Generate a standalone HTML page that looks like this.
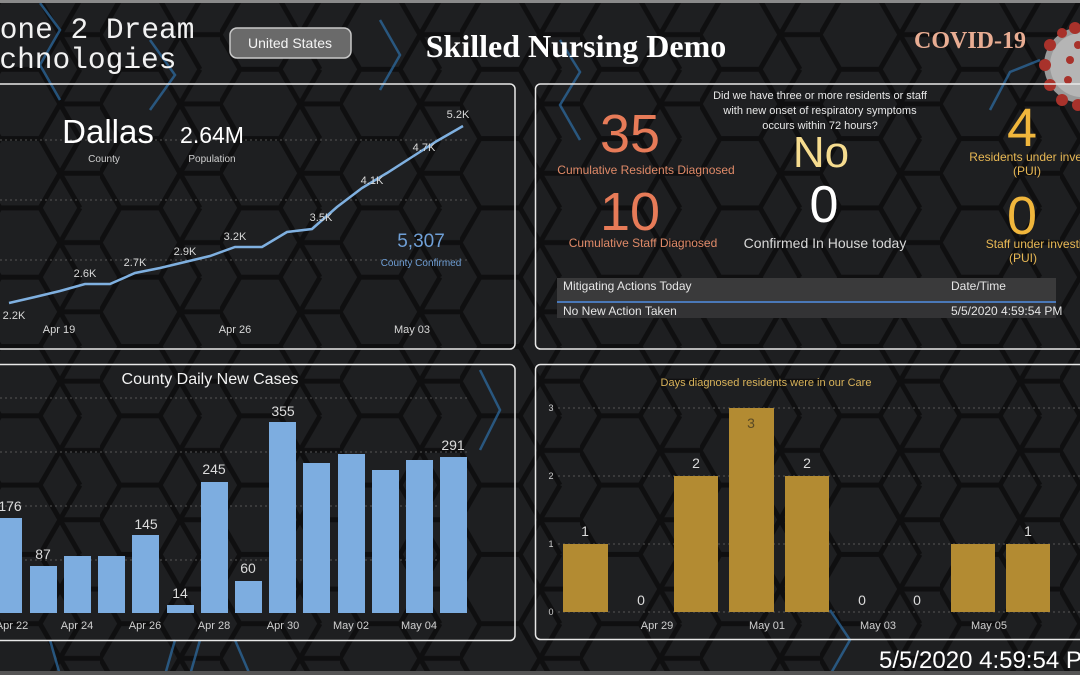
<!DOCTYPE html>
<html><head><meta charset="utf-8"><style>
html,body{margin:0;padding:0;background:#1b1c1e;}
body{width:1080px;height:675px;overflow:hidden;position:relative;font-family:"Liberation Sans",sans-serif;}
svg{position:absolute;left:0;top:0;}
</style></head><body>
<svg width="1080" height="675" viewBox="0 0 1080 675" xmlns="http://www.w3.org/2000/svg" font-family="Liberation Sans, sans-serif">
<defs>
<pattern id="hex" width="120" height="69.3" patternUnits="userSpaceOnUse" x="-20" y="0">
<rect width="120" height="69.3" fill="#1e1f21"/>
<path d="M0,34.65 L20,0 L60,0 L80,34.65 L60,69.3 L20,69.3 Z M80,34.65 L120,34.65 M60,0 L80,-34.65 M60,69.3 L80,103.95" fill="none" stroke="#0f0f10" stroke-width="5"/>
<path d="M80,34.65 L100,0 M80,34.65 L100,69.3" fill="none" stroke="#0f0f10" stroke-width="5"/>
</pattern>
</defs>
<rect width="1080" height="675" fill="url(#hex)"/>
<!-- blue accent strokes -->
<g stroke="#2d6fa8" stroke-width="2.5" fill="none" opacity="0.7">
<path d="M40,3 L60,30 L40,65 L60,100"/>
<path d="M150,40 L175,75 L150,110"/>
<path d="M380,20 L400,55 L380,90"/>
<path d="M560,40 L580,72 L560,105 L580,140"/>
<path d="M480,370 L500,410 L480,450"/>
<path d="M50,640 L60,675 M175,640 L165,675 M200,640 L190,675 M235,640 L250,675"/>
<path d="M830,610 L850,640 L830,675"/>
<path d="M1040,60 L1010,72 L990,110"/>
</g>
<rect x="0" y="0" width="1080" height="3" fill="#8a8a8a"/>
<rect x="0" y="671" width="1080" height="4" fill="#555"/>

<!-- header -->
<text x="-18" y="38" font-family="Liberation Mono, monospace" font-size="29.5" fill="#f2f2f2">Zone 2 Dream</text>
<text x="-36" y="68" font-family="Liberation Mono, monospace" font-size="29.5" fill="#f2f2f2">Technologies</text>
<rect x="230" y="28" width="121" height="30" rx="7" fill="#6a6a6a" stroke="#c8c8c8" stroke-width="1.5"/>
<text x="290" y="48" font-size="14" fill="#f4f4f4" text-anchor="middle">United States</text>
<text x="576" y="57" font-family="Liberation Serif, serif" font-weight="bold" font-size="32" fill="#ffffff" text-anchor="middle">Skilled Nursing Demo</text>
<text x="970" y="48" font-family="Liberation Serif, serif" font-weight="bold" font-size="24" fill="#e9ad93" text-anchor="middle">COVID-19</text>
<!-- virus -->
<g>
<circle cx="1082" cy="65" r="38" fill="#9a9a9a"/>
<circle cx="1082" cy="65" r="32" fill="#b5b5b5"/>
<g fill="#a8322b">
<circle cx="1050" cy="45" r="6"/><circle cx="1045" cy="65" r="6"/><circle cx="1050" cy="85" r="6"/><circle cx="1062" cy="100" r="6"/><circle cx="1075" cy="28" r="6"/><circle cx="1062" cy="33" r="5"/><circle cx="1070" cy="60" r="4"/><circle cx="1068" cy="80" r="4"/><circle cx="1078" cy="105" r="6"/><circle cx="1078" cy="45" r="4"/>
</g>
</g>

<!-- panel borders -->
<rect x="-10" y="84" width="525" height="265" rx="5" fill="none" stroke="#e8e8e8" stroke-width="1.5"/>
<rect x="535.5" y="84" width="560" height="265" rx="5" fill="none" stroke="#e8e8e8" stroke-width="1.5"/>
<rect x="-10" y="364.5" width="525" height="276" rx="5" fill="none" stroke="#e8e8e8" stroke-width="1.5"/>
<rect x="535.5" y="364.5" width="560" height="275" rx="5" fill="none" stroke="#e8e8e8" stroke-width="1.5"/>

<!-- top-left line chart -->
<g stroke="#555" stroke-dasharray="2,3" stroke-width="1">
<line x1="0" y1="140" x2="470" y2="140"/><line x1="0" y1="200" x2="470" y2="200"/><line x1="0" y1="260" x2="470" y2="260"/>
</g>
<text x="108" y="143" font-size="33" fill="#fff" text-anchor="middle">Dallas</text>
<text x="104" y="162" font-size="10" fill="#cfcfcf" text-anchor="middle">County</text>
<text x="212" y="143" font-size="23" fill="#fff" text-anchor="middle">2.64M</text>
<text x="212" y="162" font-size="10" fill="#cfcfcf" text-anchor="middle">Population</text>
<text x="421" y="247" font-size="19" fill="#6f9fd6" text-anchor="middle">5,307</text>
<text x="421" y="266" font-size="10" fill="#6f9fd6" text-anchor="middle">County Confirmed</text>
<polyline points="9,303 35,297 60,291 85,284 110,284 135,273 160,268 185,262 210,256 235,247 262,247 287,232 312,229 337,207 362,188 387,173 412,157 437,141 463,126" fill="none" stroke="#7fb0e0" stroke-width="2.5"/>
<g font-size="11" fill="#d8d8d8" text-anchor="middle">
<text x="14" y="319">2.2K</text><text x="85" y="277">2.6K</text><text x="135" y="266">2.7K</text><text x="185" y="255">2.9K</text><text x="235" y="240">3.2K</text><text x="321" y="221">3.5K</text><text x="372" y="184">4.1K</text><text x="424" y="151">4.7K</text><text x="458" y="118">5.2K</text>
<text x="59" y="333">Apr 19</text><text x="235" y="333">Apr 26</text><text x="412" y="333">May 03</text>
</g>

<!-- top-right KPIs -->
<g text-anchor="middle">
<text x="630" y="152" font-size="54" fill="#e77b58">35</text>
<text x="646" y="174" font-size="12" fill="#e08a68">Cumulative Residents Diagnosed</text>
<text x="630" y="230" font-size="54" fill="#e77b58">10</text>
<text x="643" y="247" font-size="12" fill="#e08a68">Cumulative Staff Diagnosed</text>
<text x="820" y="99" font-size="11" fill="#e8e8e8">Did we have three or more residents or staff</text>
<text x="820" y="114" font-size="11" fill="#e8e8e8">with new onset of respiratory symptoms</text>
<text x="820" y="129" font-size="11" fill="#e8e8e8">occurs within 72 hours?</text>
<text x="821" y="167" font-size="44" fill="#f6dc8f">No</text>
<text x="824" y="222" font-size="52" fill="#ffffff">0</text>
<text x="825" y="248" font-size="14" fill="#d8d8d8">Confirmed In House today</text>
<text x="1022" y="146" font-size="54" fill="#f0b63c">4</text>
<text x="1048" y="161" font-size="12" fill="#e8b854">Residents under investigation</text>
<text x="1027" y="175" font-size="12" fill="#e8b854">(PUI)</text>
<text x="1022" y="234" font-size="54" fill="#f0b63c">0</text>
<text x="1050" y="248" font-size="12" fill="#e8b854">Staff under investigation</text>
<text x="1023" y="262" font-size="12" fill="#e8b854">(PUI)</text>
</g>
<rect x="557" y="278" width="499" height="23" fill="#3a3a3b"/>
<rect x="557" y="301" width="499" height="2" fill="#4a78b8"/>
<rect x="557" y="303" width="499" height="15" fill="#333335"/>
<text x="563" y="290" font-size="12" fill="#e6e6e6">Mitigating Actions Today</text>
<text x="951" y="290" font-size="12" fill="#e6e6e6">Date/Time</text>
<text x="563" y="315" font-size="12" fill="#e6e6e6">No New Action Taken</text>
<text x="951" y="315" font-size="12" fill="#e6e6e6">5/5/2020 4:59:54 PM</text>

<!-- bottom-left bar chart -->
<text x="210" y="384" font-size="16" fill="#f2f2f2" text-anchor="middle">County Daily New Cases</text>
<g stroke="#555" stroke-dasharray="2,3"><line x1="0" y1="398" x2="470" y2="398"/><line x1="0" y1="452" x2="470" y2="452"/><line x1="0" y1="506" x2="470" y2="506"/><line x1="0" y1="560" x2="470" y2="560"/></g>
<g fill="#7dade0">
<rect x="-5" y="518" width="27" height="95"/>
<rect x="30" y="566" width="27" height="47"/>
<rect x="64" y="556" width="27" height="57"/>
<rect x="98" y="556" width="27" height="57"/>
<rect x="132" y="535" width="27" height="78"/>
<rect x="167" y="605" width="27" height="8"/>
<rect x="201" y="482" width="27" height="131"/>
<rect x="235" y="581" width="27" height="32"/>
<rect x="269" y="422" width="27" height="191"/>
<rect x="303" y="463" width="27" height="150"/>
<rect x="338" y="454" width="27" height="159"/>
<rect x="372" y="470" width="27" height="143"/>
<rect x="406" y="460" width="27" height="153"/>
<rect x="440" y="457" width="27" height="156"/>
</g>
<g font-size="14" fill="#dcdcdc" text-anchor="middle">
<text x="10" y="511">176</text><text x="43" y="559">87</text><text x="146" y="529">145</text><text x="180" y="598">14</text><text x="214" y="474">245</text><text x="248" y="573">60</text><text x="283" y="416">355</text><text x="453" y="450">291</text>
</g>
<g font-size="11" fill="#d0d0d0" text-anchor="middle">
<text x="12" y="629">Apr 22</text><text x="77" y="629">Apr 24</text><text x="145" y="629">Apr 26</text><text x="214" y="629">Apr 28</text><text x="283" y="629">Apr 30</text><text x="351" y="629">May 02</text><text x="419" y="629">May 04</text>
</g>

<!-- bottom-right gold bars -->
<text x="766" y="386" font-size="11" fill="#d9b35a" text-anchor="middle">Days diagnosed  residents  were in our Care</text>
<g stroke="#555" stroke-dasharray="2,3"><line x1="558" y1="408" x2="1080" y2="408"/><line x1="558" y1="476" x2="1080" y2="476"/><line x1="558" y1="544" x2="1080" y2="544"/><line x1="558" y1="612" x2="1080" y2="612"/></g>
<g font-size="9" fill="#cfcfcf" text-anchor="middle"><text x="551" y="411">3</text><text x="551" y="479">2</text><text x="551" y="547">1</text><text x="551" y="615">0</text></g>
<g fill="#b38b32">
<rect x="563" y="544" width="45" height="68"/>
<rect x="674" y="476" width="44" height="136"/>
<rect x="729" y="408" width="45" height="204"/>
<rect x="785" y="476" width="44" height="136"/>
<rect x="951" y="544" width="44" height="68"/>
<rect x="1006" y="544" width="44" height="68"/>
</g>
<g font-size="14" fill="#dcdcdc" text-anchor="middle">
<text x="585" y="536">1</text><text x="641" y="605">0</text><text x="696" y="468">2</text><text x="751" y="428" fill="#5a4a25">3</text><text x="807" y="468">2</text><text x="862" y="605">0</text><text x="917" y="605">0</text><text x="1028" y="536">1</text>
</g>
<g font-size="11" fill="#d0d0d0" text-anchor="middle">
<text x="657" y="629">Apr 29</text><text x="767" y="629">May 01</text><text x="878" y="629">May 03</text><text x="989" y="629">May 05</text>
</g>

<text x="879" y="668" font-size="24" fill="#ffffff">5/5/2020 4:59:54 PM</text>
</svg>
</body></html>
